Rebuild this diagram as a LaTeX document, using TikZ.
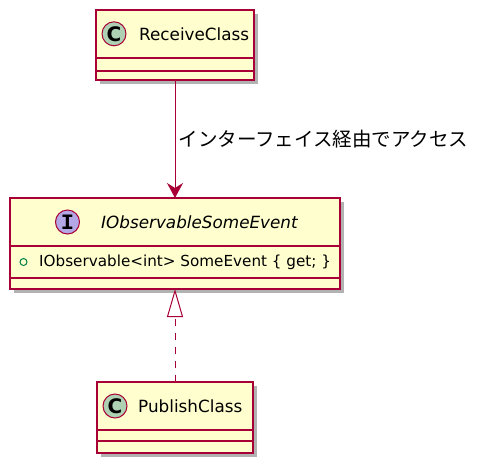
\documentclass[tikz,border=0pt]{standalone}
\usepackage{fontspec}
\setmainfont{DejaVu Sans}
\newfontfamily\jpfont{Noto Sans CJK JP}
\newfontfamily\slabfont{Liberation Mono}
\usetikzlibrary{arrows.meta,shadows}
\definecolor{plborder}{HTML}{A80036}
\definecolor{plfill}{HTML}{FEFECE}
\definecolor{plclass}{HTML}{ADD1B2}
\definecolor{plintf}{HTML}{B4A7E5}
\definecolor{plpublic}{HTML}{038048}

\begin{document}
\begin{tikzpicture}[x=1pt,y=-1pt,>={Stealth[length=15pt,width=16pt,inset=5pt]}]
\tikzset{umlbox/.style={draw=plborder, fill=plfill, line width=1.5pt, inner sep=0pt, outer sep=0pt, anchor=north west,
  drop shadow={shadow xshift=4pt, shadow yshift=-4pt, opacity=0.3, fill=black}},
  sepline/.style={draw=plborder, line width=1.5pt},
  kindmark/.style={circle, draw=plborder, line width=1pt, minimum size=24pt, inner sep=0pt},
  boxname/.style={anchor=west, inner sep=0pt, font=\fontsize{16.8}{18}\selectfont},
  member/.style={anchor=west, inner sep=0pt, font=\fontsize{15.2}{18}\selectfont},
  assoc/.style={color=plborder, line width=1pt, ->},
  realize/.style={color=plborder, line width=1pt, dash pattern=on 7pt off 7pt, -{Triangle[open, fill=white, length=28pt, width=16pt]}}}
\useasboundingbox (0,0) rectangle (480,472);
\node[umlbox, minimum width=158pt, minimum height=70pt] (recv) at (96,10) {};
\node[umlbox, minimum width=330pt, minimum height=91pt] (iobs) at (10,198) {};
\node[umlbox, minimum width=156pt, minimum height=71pt] (pub) at (97,382) {};
\draw[sepline] ([yshift=-48pt]recv.north west) -- ([yshift=-48pt]recv.north east);
\draw[sepline] ([yshift=-61pt]recv.north west) -- ([yshift=-61pt]recv.north east);
\draw[sepline] ([yshift=-48pt]iobs.north west) -- ([yshift=-48pt]iobs.north east);
\draw[sepline] ([yshift=-80pt]iobs.north west) -- ([yshift=-80pt]iobs.north east);
\draw[sepline] ([yshift=-48pt]pub.north west) -- ([yshift=-48pt]pub.north east);
\draw[sepline] ([yshift=-59pt]pub.north west) -- ([yshift=-59pt]pub.north east);
\node[kindmark, fill=plclass, font=\fontsize{20}{20}\selectfont\bfseries] (recvk) at (114,33.8) {C};
\node[kindmark, fill=plintf, font=\fontsize{22}{22}\slabfont\bfseries] (iobsk) at (67.5,222) {I};
\node[kindmark, fill=plclass, font=\fontsize{20}{20}\selectfont\bfseries] (pubk) at (115,406) {C};
\node[boxname] (recvn) at (139,33.8) {ReceiveClass};
\node[boxname, font=\fontsize{16.8}{18}\selectfont\itshape] (iobsn) at (101,222) {IObservableSomeEvent};
\node[boxname] (pubn) at (138,406) {PublishClass};
\node[circle, draw=plpublic, line width=1pt, minimum size=7pt, inner sep=0pt] (iobsv) at (23.5,262) {};
\node[member] (iobsm) at (39,262) {IObservable<int> SomeEvent \{ get; \}};
\path[assoc] (recv) edge node[right, inner sep=3pt, text=black, font=\fontsize{19.5}{21}\jpfont] {インターフェイス経由でアクセス} (iobs);
\path[realize] (pub) edge (iobs);
\end{tikzpicture}
\end{document}
